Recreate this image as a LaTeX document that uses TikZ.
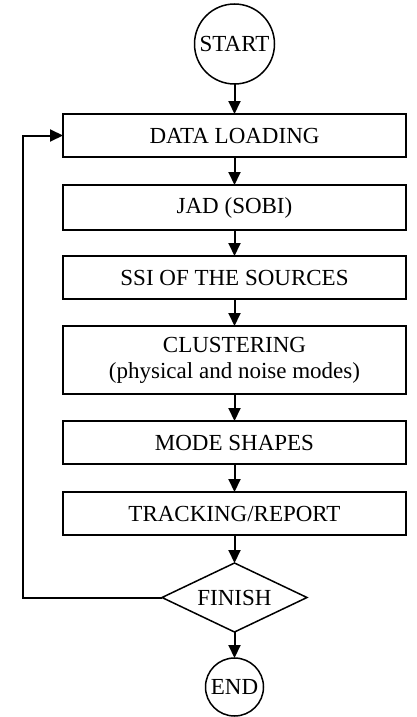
\documentclass[tikz,border=0pt]{standalone}
\usepackage{fontspec}
\setmainfont{Liberation Serif}
\usepackage{tikz}
\usetikzlibrary{arrows.meta,positioning,shapes.geometric}

\begin{document}
\begin{tikzpicture}[x=1pt,y=1pt,node distance=27pt, every node/.style={font=\fontsize{23}{26}\selectfont,align=center,outer sep=0pt}, stepbox/.style={draw,line width=1.5pt,minimum height=43pt,minimum width=343pt,inner sep=2pt}, term/.style={draw,circle,line width=1.5pt,inner sep=0pt}, decide/.style={draw,diamond,line width=1.5pt,aspect=2.1,minimum width=145pt,minimum height=69pt,inner sep=0pt}, arr/.style={-{Triangle[length=13pt,width=12pt]},line width=2pt}]
  \useasboundingbox (0,0) rectangle (416,-717);
  \node[term,minimum size=80pt] (start) at (234.5,-44) {START};
  \node[stepbox,below=30pt of start] (load) {DATA LOADING};
  \node[stepbox,below=28pt of load,minimum height=45pt] (jad) {JAD (SOBI)};
  \node[stepbox,below=26pt of jad] (ssi) {SSI OF THE SOURCES};
  \node[stepbox,below=of ssi,minimum height=68pt] (clust) {CLUSTERING\\(physical and noise modes)};
  \node[stepbox,below=of clust] (shapes) {MODE SHAPES};
  \node[stepbox,below=28pt of shapes] (track) {TRACKING/REPORT};
  \node[decide,below=28pt of track] (finish) {FINISH};
  \node[term,minimum size=58pt,below=26pt of finish] (end) {END};
  \draw[arr] (start) -- (load);
  \draw[arr] (load) -- (jad);
  \draw[arr] (jad) -- (ssi);
  \draw[arr] (ssi) -- (clust);
  \draw[arr] (clust) -- (shapes);
  \draw[arr] (shapes) -- (track);
  \draw[arr] (track) -- (finish);
  \draw[arr] (finish) -- (end);
  \draw[arr] (finish.west) -- ++(-139,0) |- (load.west);
\end{tikzpicture}
\end{document}
